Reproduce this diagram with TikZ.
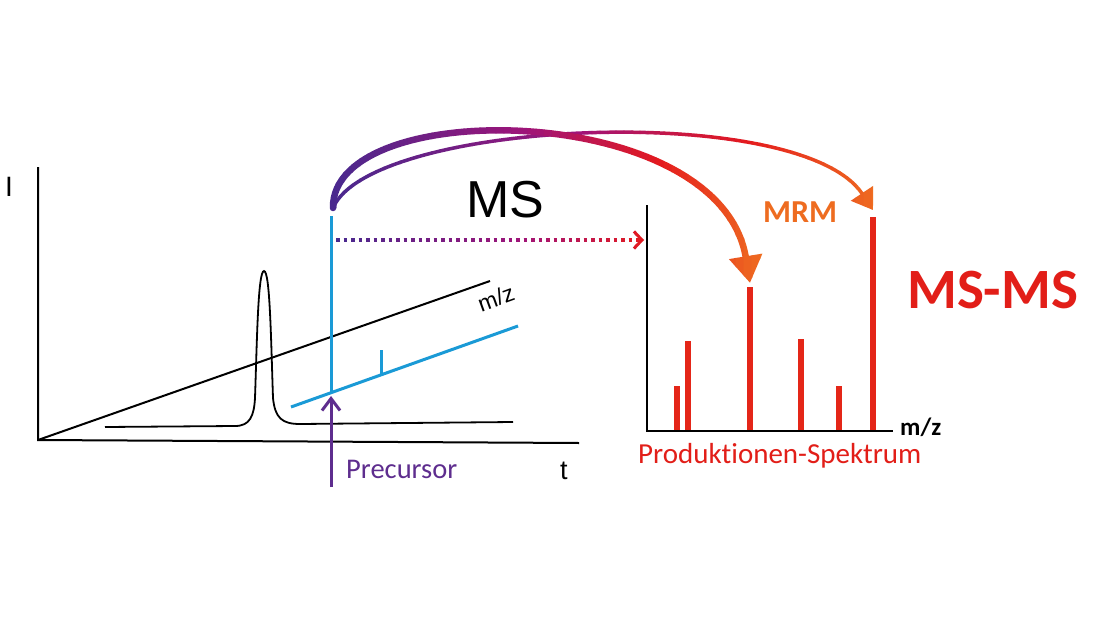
\documentclass[tikz,border=0pt]{standalone}
\usepackage{fontspec}
\newfontfamily\arialf{Liberation Sans}
\newfontfamily\calibf[Ligatures=NoCommon]{Carlito}
\usetikzlibrary{arrows.meta}
\definecolor{cind}{RGB}{74,40,142}
\definecolor{cmag}{RGB}{160,20,120}
\definecolor{cred}{RGB}{228,26,30}
\definecolor{cor}{RGB}{239,112,32}
\definecolor{cblue}{RGB}{26,154,214}
\definecolor{cpurp}{RGB}{94,45,142}
\definecolor{barred}{RGB}{228,38,24}
\definecolor{txtred}{RGB}{226,30,24}
\definecolor{mrmor}{RGB}{238,108,32}
\newcommand{\setgradcol}[1]{%
  \ifnum#1<45\relax
    \pgfmathtruncatemacro\gq{#1*100/45}\colorlet{gc}{cmag!\gq!cind}%
  \else\ifnum#1<75\relax
    \pgfmathtruncatemacro\gq{(#1-45)*100/30}\colorlet{gc}{cred!\gq!cmag}%
  \else
    \pgfmathtruncatemacro\gq{(#1-75)*100/25}\colorlet{gc}{cor!\gq!cred}%
  \fi\fi}
\begin{document}
\begin{tikzpicture}[x=1pt,y=-1pt,
  axis/.style={black,line width=2pt},
  bluel/.style={cblue,line width=3pt},
  bar/.style={barred,line width=5.5pt},
  lbl/.style={inner sep=0pt,anchor=base west}]
\fill[white] (0,0) rectangle (1100,618);
\useasboundingbox (0,0) rectangle (1100,618);

% chromatogram axes
\coordinate (O) at (38,440);
\coordinate (Itop) at (38,167);
\coordinate (Tend) at (579,443);
\coordinate (Mend) at (490,281);
\draw[axis] (Itop) -- (O) -- (Tend);
\draw[axis] (O) -- (Mend);

% chromatogram trace
\draw[black,line width=1.8pt] (105,427) -- (235,426)
  .. controls (250,426) and (254,416) .. (255,398)
  .. controls (257,340) and (258,271) .. (264,271)
  .. controls (270,271) and (271,340) .. (273,398)
  .. controls (275,418) and (282,424) .. (300,424) -- (513,422);

% blue mass spectrum
\coordinate (bl0) at (291,407);
\coordinate (bl1) at (518,326);
\coordinate (prec) at (331,393);
\coordinate (bluetop) at (331,216);
\coordinate (tick0) at (381,375);
\coordinate (tick1) at (381,350);
\draw[bluel] (bl0) -- (bl1);
\draw[bluel] (prec) -- (bluetop);
\draw[bluel] (tick0) -- (tick1);

% precursor arrow
\coordinate (pbot) at (331,487);
\coordinate (pend) at (331,396);
\draw[cpurp,line width=3pt,-{Straight Barb[length=12pt,width=18pt]}] (pbot) -- (pend);

% dotted gradient arrow
\coordinate (dotL) at (336,240);
\coordinate (dotR) at (644,240);
\foreach \k in {0,...,39} {
  \pgfmathsetmacro\xa{332+8*\k}
  \pgfmathtruncatemacro\pp{max(0,min(75,(\xa+4-336)/(644-336)*75))}
  \setgradcol{\pp}
  \begin{scope}
    \clip (\xa-0.4,220) rectangle (\xa+8.4,260);
    \draw[gc,line width=3.5pt,dash pattern=on 3.5pt off 4pt,
      -{Straight Barb[length=8pt,width=17pt,line width=3pt]}] (dotL) -- (dotR);
  \end{scope}
}

% curved gradient arrows
\coordinate (src) at (333,208);
\coordinate (tipA) at (750,283);
\coordinate (tipB) at (873,210);
\foreach \k in {0,...,70} {
  \pgfmathsetmacro\xa{320+8*\k}
  \pgfmathtruncatemacro\pa{max(0,min(100,(\xa+4-333)/(765-333)*100))}
  \pgfmathtruncatemacro\pb{max(0,min(100,(\xa+4-333)/(880-333)*100))}
  \begin{scope}
    \clip (\xa-0.4,100) rectangle (\xa+8.4,300);
    \setgradcol{\pb}
    \draw[gc,line width=3.5pt,line cap=round,-{Triangle[length=20pt,width=26pt]}]
      (src) .. controls (370,120) and (800,100) .. (tipB);
    \setgradcol{\pa}
    \draw[gc,line width=6.5pt,line cap=round,-{Triangle[length=27pt,width=32pt]}]
      (src) .. controls (331,95) and (720,100) .. (tipA);
  \end{scope}
}

% product ion spectrum
\foreach \bx/\by in {677/386, 688/341, 750/287, 801/339, 839/386, 873/217}
  \draw[bar] (\bx,431) -- (\bx,\by);
\coordinate (sy) at (647,205);
\coordinate (so) at (647,431);
\coordinate (sx) at (893,431);
\draw[black,line width=1.8pt] (sy) -- (so) -- (sx);

% labels
\node[lbl] (lI) at (5,196) {\arialf\fontsize{28}{28}\selectfont I};
\node[lbl] (lt) at (560,479) {\arialf\fontsize{27}{27}\selectfont t};
\node[inner sep=0pt,rotate=20] (lmz) at (496,298) {\arialf\fontsize{23}{23}\selectfont m/z};
\node[inner sep=0pt,anchor=base] (lMS) at (505,217) {\arialf\fontsize{52}{52}\selectfont MS};
\node[lbl,text=cpurp] (lprec) at (346,478) {\calibf\fontsize{28.5}{28.5}\selectfont Precursor};
\node[lbl,text=txtred] (lprod) at (638,463) {\calibf\fontsize{29}{29}\selectfont Produktionen-Spektrum};
\node[lbl,text=mrmor] (lmrm) at (763,222) {\calibf\bfseries\fontsize{32}{32}\selectfont MRM};
\node[lbl,text=txtred] (lmsms) at (907,308) {\calibf\bfseries\fontsize{57}{57}\selectfont MS-MS};
\node[lbl] (lmz2) at (900,435) {\calibf\bfseries\fontsize{25}{25}\selectfont m/z};
\end{tikzpicture}
\end{document}
